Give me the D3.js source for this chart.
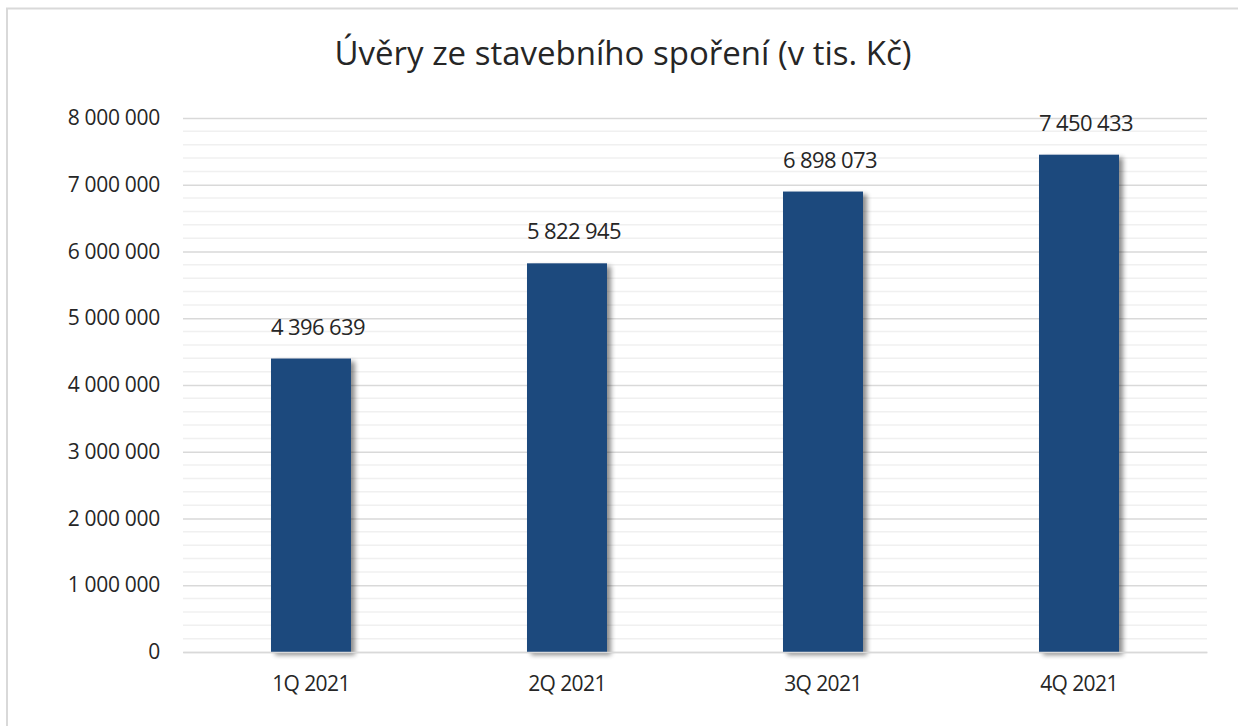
<!DOCTYPE html>
<html>
<head>
<meta charset="utf-8">
<script src="https://cdn.jsdelivr.net/npm/d3@7"></script>
<style>
  body { margin: 0; background: #fff; }
  svg text { font-family: "Open Sans", "Noto Sans", sans-serif; fill: #262626; }
</style>
</head>
<body>
<svg id="chart" width="1238" height="726"></svg>
<script>
const categories = ['1Q 2021', '2Q 2021', '3Q 2021', '4Q 2021'];
const values = [4396639, 5822945, 6898073, 7450433];
const yTicks = [0, 1000000, 2000000, 3000000, 4000000, 5000000, 6000000, 7000000, 8000000];
const titleText = 'Úvěry ze stavebního spoření (v tis. Kč)';

const margin = { top: 118, right: 31, bottom: 74, left: 183 };
const width = 1238;
const height = 726;

const svg = d3.select('#chart');

// chart frame (only top and left edges show in the crop)
svg.append('path')
  .attr('d', `M7,${height} V8.5 H${width}`)
  .attr('fill', 'none')
  .attr('stroke', '#d9d9d9')
  .attr('stroke-width', 2);

const defs = svg.append('defs');
const shadow = defs.append('filter')
  .attr('id', 'shadow')
  .attr('x', '-20%').attr('y', '-20%')
  .attr('width', '150%').attr('height', '150%');
shadow.append('feGaussianBlur').attr('in', 'SourceAlpha').attr('stdDeviation', 2.5);
shadow.append('feOffset').attr('dx', 4).attr('dy', 3).attr('result', 'blur');
shadow.append('feComponentTransfer').append('feFuncA').attr('type', 'linear').attr('slope', 0.45);
const merge = shadow.append('feMerge');
merge.append('feMergeNode');
merge.append('feMergeNode').attr('in', 'SourceGraphic');

const x = d3.scaleBand()
  .domain(categories)
  .range([margin.left, width - margin.right])
  .paddingInner(0.6875)
  .paddingOuter(0.34375);

const y = d3.scaleLinear()
  .domain([0, 8000000])
  .range([height - margin.bottom, margin.top]);

const fmt = v => d3.format(',')(v).replace(/,/g, ' ');

// minor gridlines
const minorTicks = d3.range(0, 8000001, 200000).filter(v => v % 1000000 !== 0);
svg.append('g')
  .selectAll('line')
  .data(minorTicks)
  .join('line')
  .attr('x1', margin.left)
  .attr('x2', width - margin.right)
  .attr('y1', d => y(d))
  .attr('y2', d => y(d))
  .attr('stroke', '#f0f0f0')
  .attr('stroke-width', 1.5);

// y axis with major gridlines
const yAxis = svg.append('g')
  .attr('transform', `translate(${margin.left},0)`)
  .call(d3.axisLeft(y)
    .tickValues(yTicks)
    .tickFormat(fmt)
    .tickSize(-(width - margin.left - margin.right))
    .tickPadding(23));
yAxis.select('.domain').remove();
yAxis.selectAll('.tick line')
  .attr('stroke', '#d9d9d9')
  .attr('stroke-width', 1.5);
yAxis.selectAll('.tick text')
  .style('font-size', '21px')
  .attr('fill', '#262626')
  .attr('letter-spacing', '-0.3px');

// bars
svg.append('g')
  .selectAll('rect')
  .data(values)
  .join('rect')
  .attr('x', (d, i) => x(categories[i]))
  .attr('y', d => y(d))
  .attr('width', x.bandwidth())
  .attr('height', d => y(0) - y(d))
  .attr('fill', '#1f497d')
  .attr('filter', 'url(#shadow)');

// data labels
svg.append('g')
  .selectAll('text')
  .data(values)
  .join('text')
  .attr('x', (d, i) => x(categories[i]) + x.bandwidth() / 2 + 7)
  .attr('y', d => y(d) - 24)
  .attr('text-anchor', 'middle')
  .style('font-size', '22px')
  .attr('letter-spacing', '-0.6px')
  .text(fmt);

// x axis
const xAxis = svg.append('g')
  .attr('transform', `translate(0,${height - margin.bottom})`)
  .call(d3.axisBottom(x).tickSize(0).tickPadding(24));
xAxis.select('.domain')
  .attr('stroke', '#d9d9d9')
  .attr('stroke-width', 1.5);
xAxis.selectAll('.tick text')
  .style('font-size', '21px')
  .attr('fill', '#262626')
  .attr('letter-spacing', '-0.6px');

// title
svg.append('text')
  .attr('x', 623)
  .attr('y', 65)
  .attr('text-anchor', 'middle')
  .style('font-size', '33px')
  .attr('letter-spacing', '0px')
  .text(titleText);
</script>
</body>
</html>
